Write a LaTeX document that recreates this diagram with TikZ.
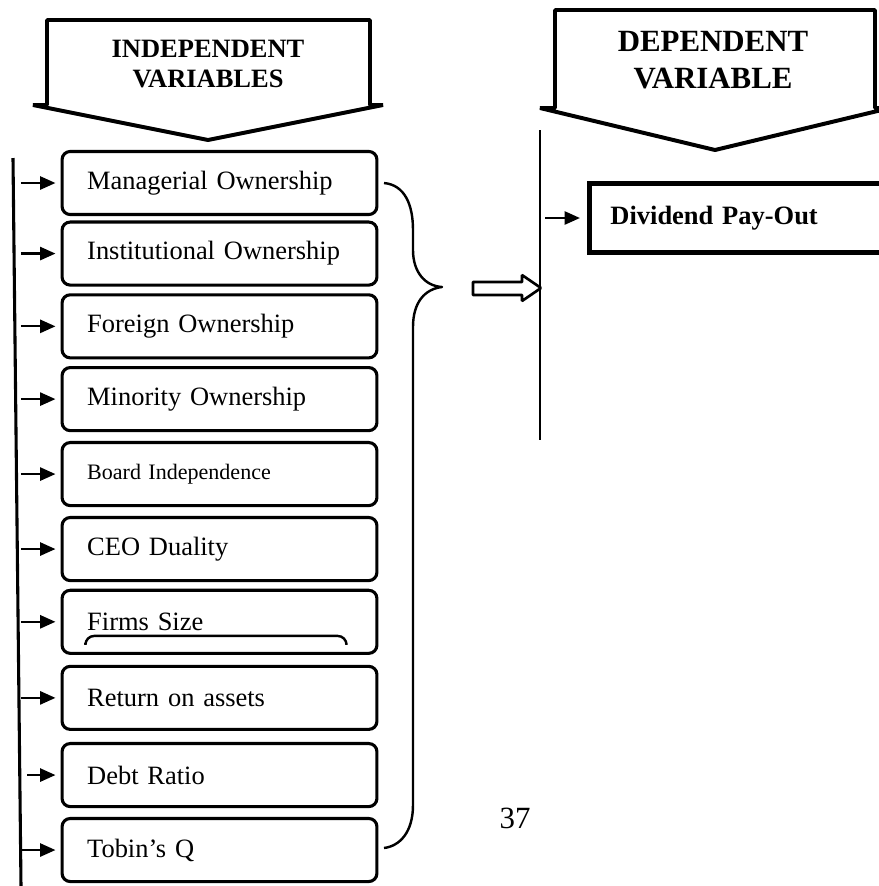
\documentclass[tikz,border=0pt]{standalone}
\usepackage{fontspec}
\setmainfont{Liberation Serif}
\usetikzlibrary{arrows.meta, positioning}

\begin{document}
\begin{tikzpicture}[
  x=0.4535pt, y=-0.4535pt,
  node distance=4pt,
  varbox/.style={draw, line width=1.4pt, rounded corners=3.7pt,
               minimum height=28.6pt, text width=120pt, inner xsep=11.4pt,
               align=left, font=\fontsize{12}{14}\selectfont},
  feed/.style={-{Triangle[length=7pt,width=6pt]}, line width=1pt, shorten >=2.3pt},
  callout/.style={line width=1.8pt, line join=bevel},
  headtxt/.style={align=center, font=\bfseries\fontsize{12}{13.8}\selectfont}
]
  \clip (0,0) rectangle (879,886);

  % header callouts
  \draw[callout] (47,20) -- (370,20) -- (370,105) -- (383,105) -- (208,140) -- (33,105) -- (47,105) -- cycle;
  \node[headtxt] (indep) at (208,64) {INDEPENDENT\\VARIABLES};
  \draw[callout] (555,10) -- (875,10) -- (875,108) -- (890,108) -- (715,150) -- (540,108) -- (555,108) -- cycle;
  \node[headtxt, font=\bfseries\fontsize{14}{16.8}\selectfont] (dep) at (713,60) {DEPENDENT\\VARIABLE};

  % independent variables
  \node[varbox] (m1) at (219.5,183) {Managerial Ownership};
  \node[varbox, below=2pt of m1] (m2) {Institutional Ownership};
  \node[varbox, below=3pt of m2] (m3) {Foreign Ownership};
  \node[varbox, below=3pt of m3] (m4) {Minority Ownership};
  \node[varbox, below=of m4, font=\fontsize{10}{12}\selectfont] (m5) {Board Independence};
  \node[varbox, below=of m5] (m6) {CEO Duality};
  \node[varbox, below=3pt of m6] (m7) {Firms Size};
  \node[varbox, below=4.5pt of m7] (m8) {Return on assets};
  \node[varbox, below=5pt of m8] (m9) {Debt Ratio};
  \node[varbox, below=of m9] (m10) {Tobin’s Q};
  \draw[line width=1.1pt, rounded corners=4pt]
    ([xshift=11.3pt,yshift=5.4pt]m7.south west) -- ([xshift=11.3pt,yshift=8.6pt]m7.south west)
    -- ([xshift=-14.5pt,yshift=8.6pt]m7.south east) -- ([xshift=-14.5pt,yshift=5.4pt]m7.south east);

  \coordinate (ltop) at (13,158);
  \coordinate (lbot) at (21,886);
  \draw[line width=1.4pt] (ltop) -- (lbot);
  \draw[feed] ([xshift=-18pt]m1.west) -- (m1.west);
  \draw[feed] ([xshift=-18pt]m2.west) -- (m2.west);
  \draw[feed] ([xshift=-18pt]m3.west) -- (m3.west);
  \draw[feed] ([xshift=-18pt]m4.west) -- (m4.west);
  \draw[feed] ([xshift=-18pt]m5.west) -- (m5.west);
  \draw[feed] ([xshift=-18pt]m6.west) -- (m6.west);
  \draw[feed] ([xshift=-18pt]m7.west) -- (m7.west);
  \draw[feed] ([xshift=-18pt]m8.west) -- (m8.west);
  \draw[feed] ([xshift=-15pt]m9.west) -- (m9.west);
  \draw[feed] ([xshift=-18pt]m10.west) -- (m10.west);

  % brace and hollow arrow
  \draw[line width=1.1pt, line join=round] (384,183) .. controls (405,185) and (413,205) .. (413,230)
    -- (413,250) .. controls (413,272) and (425,286) .. (442,287)
    .. controls (425,289) and (413,302) .. (413,327) -- (413,805)
    .. controls (413,832) and (400,846) .. (384,848);
  \draw[line width=1.2pt, line join=bevel] (473,282) -- (522,282) -- (522,275) -- (541,288)
    -- (522,301) -- (522,295) -- (473,295) -- cycle;

  % dependent variable
  \coordinate (rtop) at (540,130);
  \coordinate (rbot) at (540,440);
  \draw[line width=1.3pt] (rtop) -- (rbot);
  \node[draw, line width=2.3pt, anchor=west, minimum height=31.7pt, text width=121pt,
        inner xsep=9.5pt, align=left, font=\bfseries\fontsize{12}{14}\selectfont]
        (div) at (587,218) {Dividend Pay-Out};
  \draw[feed, shorten >=3.2pt] ([xshift=-19pt]div.west) -- (div.west);

  \node[font=\fontsize{14}{16}\selectfont] (pg) at (515,818) {37};
\end{tikzpicture}
\end{document}
